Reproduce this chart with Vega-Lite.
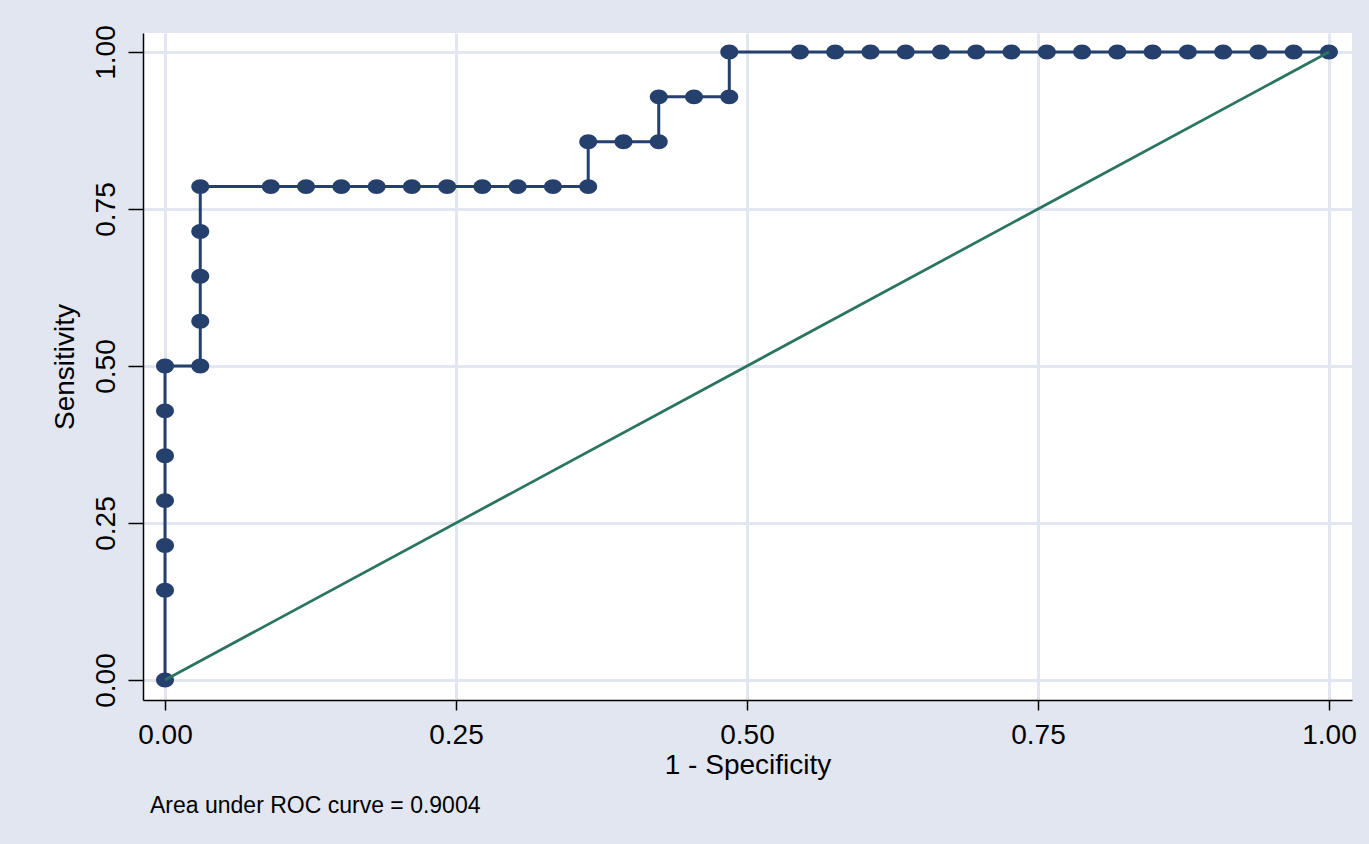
{
  "$schema": "https://vega.github.io/schema/vega-lite/v6.json",
  "width": 1209,
  "height": 667,
  "autosize": {"type": "none"},
  "padding": {"left": 143, "top": 33, "right": 17, "bottom": 144},
  "background": "#e1e6f0",
  "view": {"fill": "white", "stroke": null},
  "title": {
    "text": "Area under ROC curve = 0.9004",
    "orient": "bottom",
    "anchor": "start",
    "frame": "group",
    "font": "Liberation Sans",
    "fontSize": 23,
    "fontWeight": "normal",
    "color": "black",
    "dx": 7,
    "offset": 16
  },
  "config": {
    "axis": {
      "labelFont": "Liberation Sans",
      "titleFont": "Liberation Sans",
      "labelFontSize": 28,
      "titleFontSize": 28,
      "titleFontWeight": "normal",
      "labelColor": "black",
      "titleColor": "black",
      "tickColor": "black",
      "domainColor": "black",
      "domainWidth": 1.5,
      "tickWidth": 1.5,
      "gridColor": "#e1e6f0",
      "gridWidth": 3,
      "gridOpacity": 1
    }
  },
  "data": {
    "values": [
      {"fpr": 0, "sens": 0, "ord": 1},
      {"fpr": 0, "sens": 0.1429, "ord": 2},
      {"fpr": 0, "sens": 0.2143, "ord": 3},
      {"fpr": 0, "sens": 0.2857, "ord": 4},
      {"fpr": 0, "sens": 0.3571, "ord": 5},
      {"fpr": 0, "sens": 0.4286, "ord": 6},
      {"fpr": 0, "sens": 0.5, "ord": 7},
      {"fpr": 0.0303, "sens": 0.5, "ord": 8},
      {"fpr": 0.0303, "sens": 0.5714, "ord": 9},
      {"fpr": 0.0303, "sens": 0.6429, "ord": 10},
      {"fpr": 0.0303, "sens": 0.7143, "ord": 11},
      {"fpr": 0.0303, "sens": 0.7857, "ord": 12},
      {"fpr": 0.0909, "sens": 0.7857, "ord": 13},
      {"fpr": 0.1212, "sens": 0.7857, "ord": 14},
      {"fpr": 0.1515, "sens": 0.7857, "ord": 15},
      {"fpr": 0.1818, "sens": 0.7857, "ord": 16},
      {"fpr": 0.2121, "sens": 0.7857, "ord": 17},
      {"fpr": 0.2424, "sens": 0.7857, "ord": 18},
      {"fpr": 0.2727, "sens": 0.7857, "ord": 19},
      {"fpr": 0.3030, "sens": 0.7857, "ord": 20},
      {"fpr": 0.3333, "sens": 0.7857, "ord": 21},
      {"fpr": 0.3636, "sens": 0.7857, "ord": 22},
      {"fpr": 0.3636, "sens": 0.8571, "ord": 23},
      {"fpr": 0.3939, "sens": 0.8571, "ord": 24},
      {"fpr": 0.4242, "sens": 0.8571, "ord": 25},
      {"fpr": 0.4242, "sens": 0.9286, "ord": 26},
      {"fpr": 0.4545, "sens": 0.9286, "ord": 27},
      {"fpr": 0.4848, "sens": 0.9286, "ord": 28},
      {"fpr": 0.4848, "sens": 1, "ord": 29},
      {"fpr": 0.5455, "sens": 1, "ord": 30},
      {"fpr": 0.5758, "sens": 1, "ord": 31},
      {"fpr": 0.6061, "sens": 1, "ord": 32},
      {"fpr": 0.6364, "sens": 1, "ord": 33},
      {"fpr": 0.6667, "sens": 1, "ord": 34},
      {"fpr": 0.6970, "sens": 1, "ord": 35},
      {"fpr": 0.7273, "sens": 1, "ord": 36},
      {"fpr": 0.7576, "sens": 1, "ord": 37},
      {"fpr": 0.7879, "sens": 1, "ord": 38},
      {"fpr": 0.8182, "sens": 1, "ord": 39},
      {"fpr": 0.8485, "sens": 1, "ord": 40},
      {"fpr": 0.8788, "sens": 1, "ord": 41},
      {"fpr": 0.9091, "sens": 1, "ord": 42},
      {"fpr": 0.9394, "sens": 1, "ord": 43},
      {"fpr": 0.9697, "sens": 1, "ord": 44},
      {"fpr": 1, "sens": 1, "ord": 45}
    ]
  },
  "encoding": {
    "x": {
      "field": "fpr",
      "type": "quantitative",
      "scale": {"domain": [-0.0189, 1.0198], "nice": false, "zero": false},
      "axis": {
        "title": "1 - Specificity",
        "values": [0, 0.25, 0.5, 0.75, 1],
        "format": ".2f",
        "tickSize": 10,
        "labelPadding": 11,
        "titlePadding": 2,
        "labelFlush": false
      }
    },
    "y": {
      "field": "sens",
      "type": "quantitative",
      "scale": {"domain": [-0.0318, 1.0303], "nice": false, "zero": false},
      "axis": {
        "title": "Sensitivity",
        "values": [0, 0.25, 0.5, 0.75, 1],
        "format": ".2f",
        "tickSize": 15,
        "labelAngle": -90,
        "labelAlign": "center",
        "labelBaseline": "bottom",
        "labelPadding": 8,
        "titlePadding": 13,
        "labelFlush": false
      }
    }
  },
  "layer": [
    {
      "mark": {"type": "line", "color": "#26406e", "strokeWidth": 3},
      "encoding": {"order": {"field": "ord", "type": "quantitative"}}
    },
    {
      "mark": {
        "type": "point",
        "shape": "M-1,0A1,0.83 0 1,0 1,0A1,0.83 0 1,0 -1,0Z",
        "size": 324,
        "filled": true,
        "color": "#26406e",
        "opacity": 1
      }
    },
    {
      "data": {"values": [{"a": 0, "b": 0}, {"a": 1, "b": 1}]},
      "mark": {"type": "line", "color": "#2a7460", "strokeWidth": 2.75},
      "encoding": {
        "x": {"field": "a", "type": "quantitative"},
        "y": {"field": "b", "type": "quantitative"}
      }
    }
  ]
}
